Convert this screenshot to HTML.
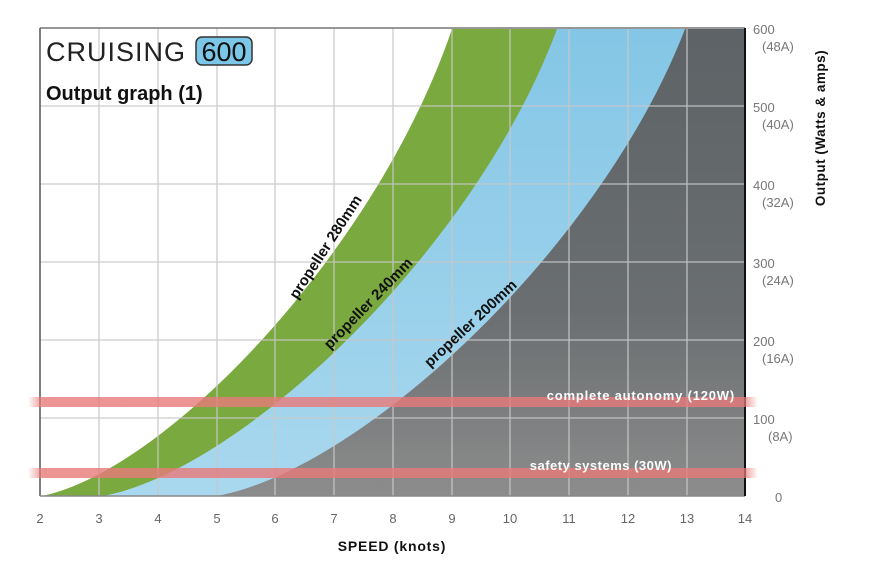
<!DOCTYPE html>
<html><head><meta charset="utf-8"><style>
html,body{margin:0;padding:0;background:#fff;}
svg{display:block;}
</style></head><body>
<svg width="872" height="564" viewBox="0 0 872 564" xmlns="http://www.w3.org/2000/svg" font-family="'Liberation Sans', sans-serif">
<defs>
<linearGradient id="gg" x1="0" y1="0" x2="0" y2="1"><stop offset="0" stop-color="#5d6366"/><stop offset="0.6" stop-color="#6a6e70"/><stop offset="1" stop-color="#8c8c8c"/></linearGradient>
<linearGradient id="bg" x1="0" y1="0" x2="0" y2="1"><stop offset="0" stop-color="#84c6e6"/><stop offset="1" stop-color="#a9d8ee"/></linearGradient>
<linearGradient id="rb" x1="0" y1="0" x2="1" y2="0"><stop offset="0" stop-color="#e87a7a" stop-opacity="0"/><stop offset="0.02" stop-color="#e87a7a" stop-opacity="0.8"/><stop offset="0.98" stop-color="#e87a7a" stop-opacity="0.8"/><stop offset="1" stop-color="#e87a7a" stop-opacity="0"/></linearGradient>
</defs>
<path d="M42,496 C167,470 377,250 452,29 L745,29 L745,496 Z" fill="#7aa93f"/>
<path d="M103,496 C242,470 475,250 557,29 L745,29 L745,496 Z" fill="url(#bg)"/>
<path d="M217,496 C360,470 600,250 685,29 L745,29 L745,496 Z" fill="url(#gg)"/>
<g stroke="#c8c8c8" stroke-width="1.3" opacity="0.9">
<line x1="99" y1="28" x2="99" y2="496"/><line x1="158" y1="28" x2="158" y2="496"/><line x1="217" y1="28" x2="217" y2="496"/><line x1="275" y1="28" x2="275" y2="496"/><line x1="334" y1="28" x2="334" y2="496"/><line x1="393" y1="28" x2="393" y2="496"/><line x1="452" y1="28" x2="452" y2="496"/><line x1="510" y1="28" x2="510" y2="496"/><line x1="569" y1="28" x2="569" y2="496"/><line x1="628" y1="28" x2="628" y2="496"/><line x1="687" y1="28" x2="687" y2="496"/>
<line x1="40" y1="106" x2="745" y2="106"/><line x1="40" y1="184" x2="745" y2="184"/><line x1="40" y1="262" x2="745" y2="262"/><line x1="40" y1="340" x2="745" y2="340"/><line x1="40" y1="418" x2="745" y2="418"/>
</g>
<line x1="40" y1="28" x2="745" y2="28" stroke="#777" stroke-width="1.5"/>
<line x1="40" y1="28" x2="40" y2="496" stroke="#555" stroke-width="1.5"/>
<line x1="40" y1="496" x2="745" y2="496" stroke="#888" stroke-width="1.5"/>
<line x1="745" y1="28" x2="745" y2="496" stroke="#111" stroke-width="2"/>
<rect x="28" y="397" width="730" height="10" fill="url(#rb)"/>
<rect x="28" y="468" width="730" height="10" fill="url(#rb)"/>
<text x="735" y="400" text-anchor="end" font-size="13" font-weight="bold" fill="#fff" letter-spacing="0.8">complete autonomy (120W)</text>
<text x="672" y="470" text-anchor="end" font-size="13" font-weight="bold" fill="#fff" letter-spacing="0.5">safety systems (30W)</text>
<text transform="translate(297,300) rotate(-57)" font-size="15" font-weight="bold" fill="#111">propeller 280mm</text>
<text transform="translate(330,350) rotate(-46)" font-size="15" font-weight="bold" fill="#111">propeller 240mm</text>
<text transform="translate(430,368) rotate(-43)" font-size="15" font-weight="bold" fill="#111">propeller 200mm</text>
<text x="46" y="61" font-size="27" fill="#222" letter-spacing="1">CRUISING</text>
<rect x="196" y="37" width="56" height="28" rx="6" fill="#7cc6e8" stroke="#333" stroke-width="1.5"/>
<text x="224" y="61" text-anchor="middle" font-size="27" fill="#111">600</text>
<text x="46" y="100" font-size="20" font-weight="bold" fill="#111">Output graph (1)</text>
<g font-size="13" fill="#777">
<text x="753" y="34">600</text><text x="762" y="51">(48A)</text>
<text x="753" y="112">500</text><text x="762" y="129">(40A)</text>
<text x="753" y="190">400</text><text x="762" y="207">(32A)</text>
<text x="753" y="268">300</text><text x="762" y="285">(24A)</text>
<text x="753" y="346">200</text><text x="762" y="363">(16A)</text>
<text x="753" y="424">100</text><text x="768" y="441">(8A)</text>
<text x="775" y="502">0</text>
</g>
<text transform="translate(825,128) rotate(-90)" text-anchor="middle" font-size="13.5" font-weight="bold" fill="#111" letter-spacing="0.5">Output (Watts &amp; amps)</text>
<g font-size="13" fill="#666" text-anchor="middle">
<text x="40" y="523">2</text><text x="99" y="523">3</text><text x="158" y="523">4</text><text x="217" y="523">5</text><text x="275" y="523">6</text><text x="334" y="523">7</text><text x="393" y="523">8</text><text x="452" y="523">9</text><text x="510" y="523">10</text><text x="569" y="523">11</text><text x="628" y="523">12</text><text x="687" y="523">13</text><text x="745" y="523">14</text>
</g>
<text x="392" y="551" text-anchor="middle" font-size="14" font-weight="bold" fill="#111" letter-spacing="0.8">SPEED (knots)</text>
</svg>
</body></html>
